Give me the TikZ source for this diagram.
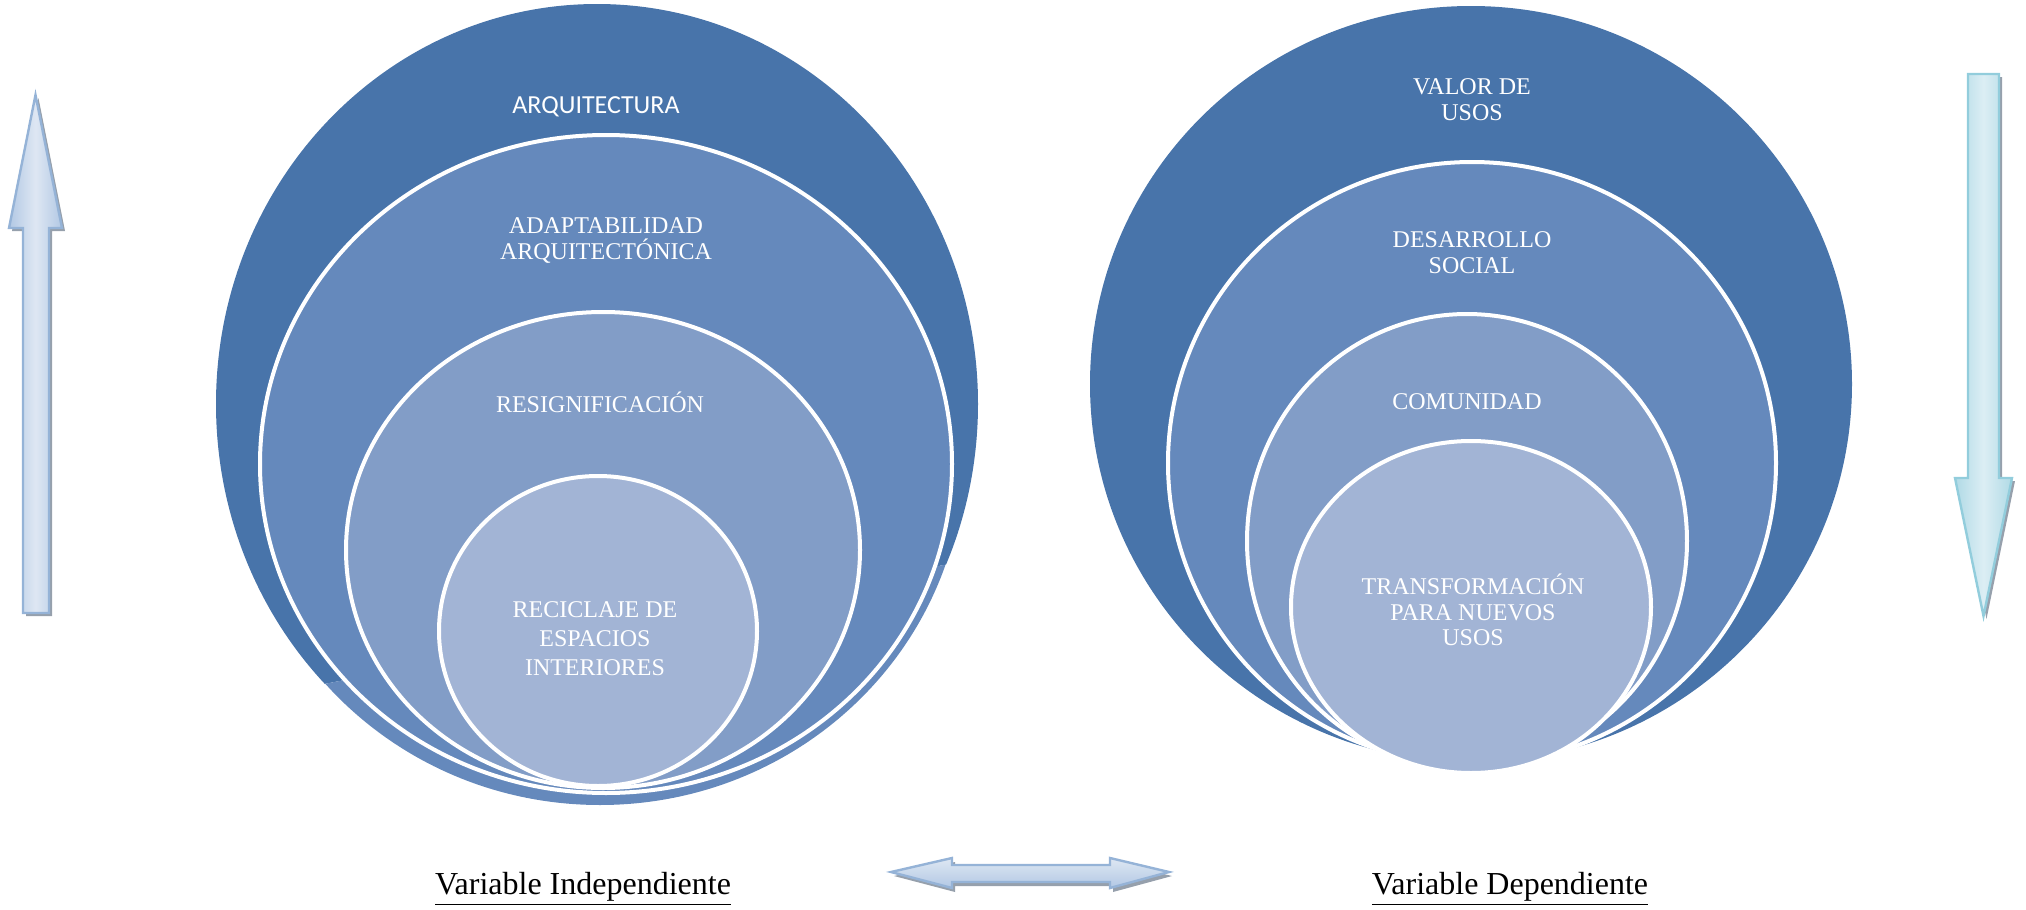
\documentclass[tikz,border=0pt]{standalone}
\usepackage{fontspec}
\setmainfont{Liberation Serif}
\newfontfamily\calibri{Carlito}
\usetikzlibrary{shapes.geometric}
\definecolor{cA}{RGB}{72,116,170}
\definecolor{cB}{RGB}{101,137,188}
\definecolor{cC}{RGB}{130,157,199}
\definecolor{cD}{RGB}{162,180,213}
\definecolor{upEdge}{RGB}{149,179,215}
\definecolor{upDark}{RGB}{178,200,228}
\definecolor{upLight}{RGB}{222,231,243}
\definecolor{dnEdge}{RGB}{146,205,220}
\definecolor{dnDark}{RGB}{176,218,230}
\definecolor{dnLight}{RGB}{220,238,244}
\definecolor{shadowgray}{RGB}{150,160,172}
\tikzset{
  ring/.style={ellipse, inner sep=0pt, outer sep=0pt, draw=white, line width=2pt},
  outerring/.style={ellipse, inner sep=0pt, outer sep=0pt, draw=none},
  lbl/.style={text=white, font=\fontsize{12}{13}\selectfont, align=center, inner sep=0pt},
  sanslbl/.style={text=white, font=\calibri\fontsize{13}{14}\selectfont, align=center, inner sep=0pt},
  varlbl/.style={font=\fontsize{16}{18}\selectfont, inner sep=0pt},
  arrshadow/.style={fill=shadowgray, draw=none},
  uparr/.style={draw=upEdge, line width=1.2pt, left color=upDark, right color=upDark, middle color=upLight},
  dnarr/.style={draw=dnEdge, line width=1.2pt, left color=dnDark, right color=dnDark, middle color=dnLight},
  hzarr/.style={draw=upEdge, line width=1.2pt, top color=upLight, bottom color=upDark},
}
\begin{document}
\begin{tikzpicture}[x=0.5pt,y=-0.5pt]
\useasboundingbox (0,0) rectangle (2026,910);

% Left nested circles
\begin{scope}
  \clip (100,0) -- (1100,0) -- (1100,535) -- (100,727) -- cycle;
  \node[outerring, fill=cA, minimum width=381pt, minimum height=400pt] (L1) at (597,404) {};
\end{scope}
\begin{scope}
  \clip (100,727) -- (1100,535) -- (1100,910) -- (100,910) -- cycle;
  \node[outerring, fill=cB, minimum width=365pt, minimum height=355pt] (L2f) at (600,450) {};
\end{scope}
\node[ring, fill=cB, minimum width=346pt, minimum height=329pt] (L2) at (606,464) {};
\node[ring, fill=cC, minimum width=257pt, minimum height=238pt] (L3) at (603,550) {};
\node[ring, fill=cD, minimum width=159pt, minimum height=155pt] (L4) at (598,631) {};

\node[sanslbl] (t1) at (596,106.5) {ARQUITECTURA};
\node[lbl] (t2) at (606,241) {ADAPTABILIDAD\\ARQUITECTÓNICA};
\node[lbl] (t3) at (600,402) {RESIGNIFICACIÓN};
\node[lbl, font=\fontsize{12}{14.5}\selectfont] (t4) at (595,639) {RECICLAJE DE\\ESPACIOS\\INTERIORES};

% Right nested circles
\node[outerring, fill=cA, minimum width=381pt, minimum height=378pt] (R1) at (1471,384) {};
\node[ring, fill=cB, minimum width=304pt, minimum height=301pt] (R2) at (1472,463) {};
\node[ring, fill=cC, minimum width=220pt, minimum height=227pt] (R3) at (1467,541) {};
\node[ring, fill=cD, minimum width=180pt, minimum height=166pt] (R4) at (1471,607) {};

\node[lbl] (u1) at (1472,100) {VALOR DE\\USOS};
\node[lbl] (u2) at (1472,253) {DESARROLLO\\SOCIAL};
\node[lbl] (u3) at (1467,402) {COMUNIDAD};
\node[lbl, font=\fontsize{12}{12.6}\selectfont] (u4) at (1473,610) {TRANSFORMACIÓN\\PARA NUEVOS\\USOS};

% Up arrow (left)
\fill[arrshadow, shift={(3,3)}] (23,613) -- (23,228) -- (9,228) -- (35.5,95) -- (62,228) -- (49,228) -- (49,613) -- cycle;
\path[uparr] (23,613) -- (23,228) -- (9,228) -- (35.5,95) -- (62,228) -- (49,228) -- (49,613) -- cycle;

% Down arrow (right)
\fill[arrshadow, shift={(3,3)}] (1968,74) -- (1999,74) -- (1999,478) -- (2012,478) -- (1983.5,616) -- (1955,478) -- (1968,478) -- cycle;
\path[dnarr] (1968,74) -- (1999,74) -- (1999,478) -- (2012,478) -- (1983.5,616) -- (1955,478) -- (1968,478) -- cycle;

% Double horizontal arrow
\fill[arrshadow, shift={(3,4)}] (891,872) -- (952,858) -- (952,865) -- (1110,865) -- (1110,858) -- (1169,872) -- (1110,888) -- (1110,882) -- (952,882) -- (952,888) -- cycle;
\path[hzarr] (891,872) -- (952,858) -- (952,865) -- (1110,865) -- (1110,858) -- (1169,872) -- (1110,888) -- (1110,882) -- (952,882) -- (952,888) -- cycle;

% Bottom labels
\node[varlbl] (vi) at (583,889) {\underline{Variable Independiente}};
\node[varlbl] (vd) at (1510,889) {\underline{Variable Dependiente}};
\end{tikzpicture}
\end{document}
